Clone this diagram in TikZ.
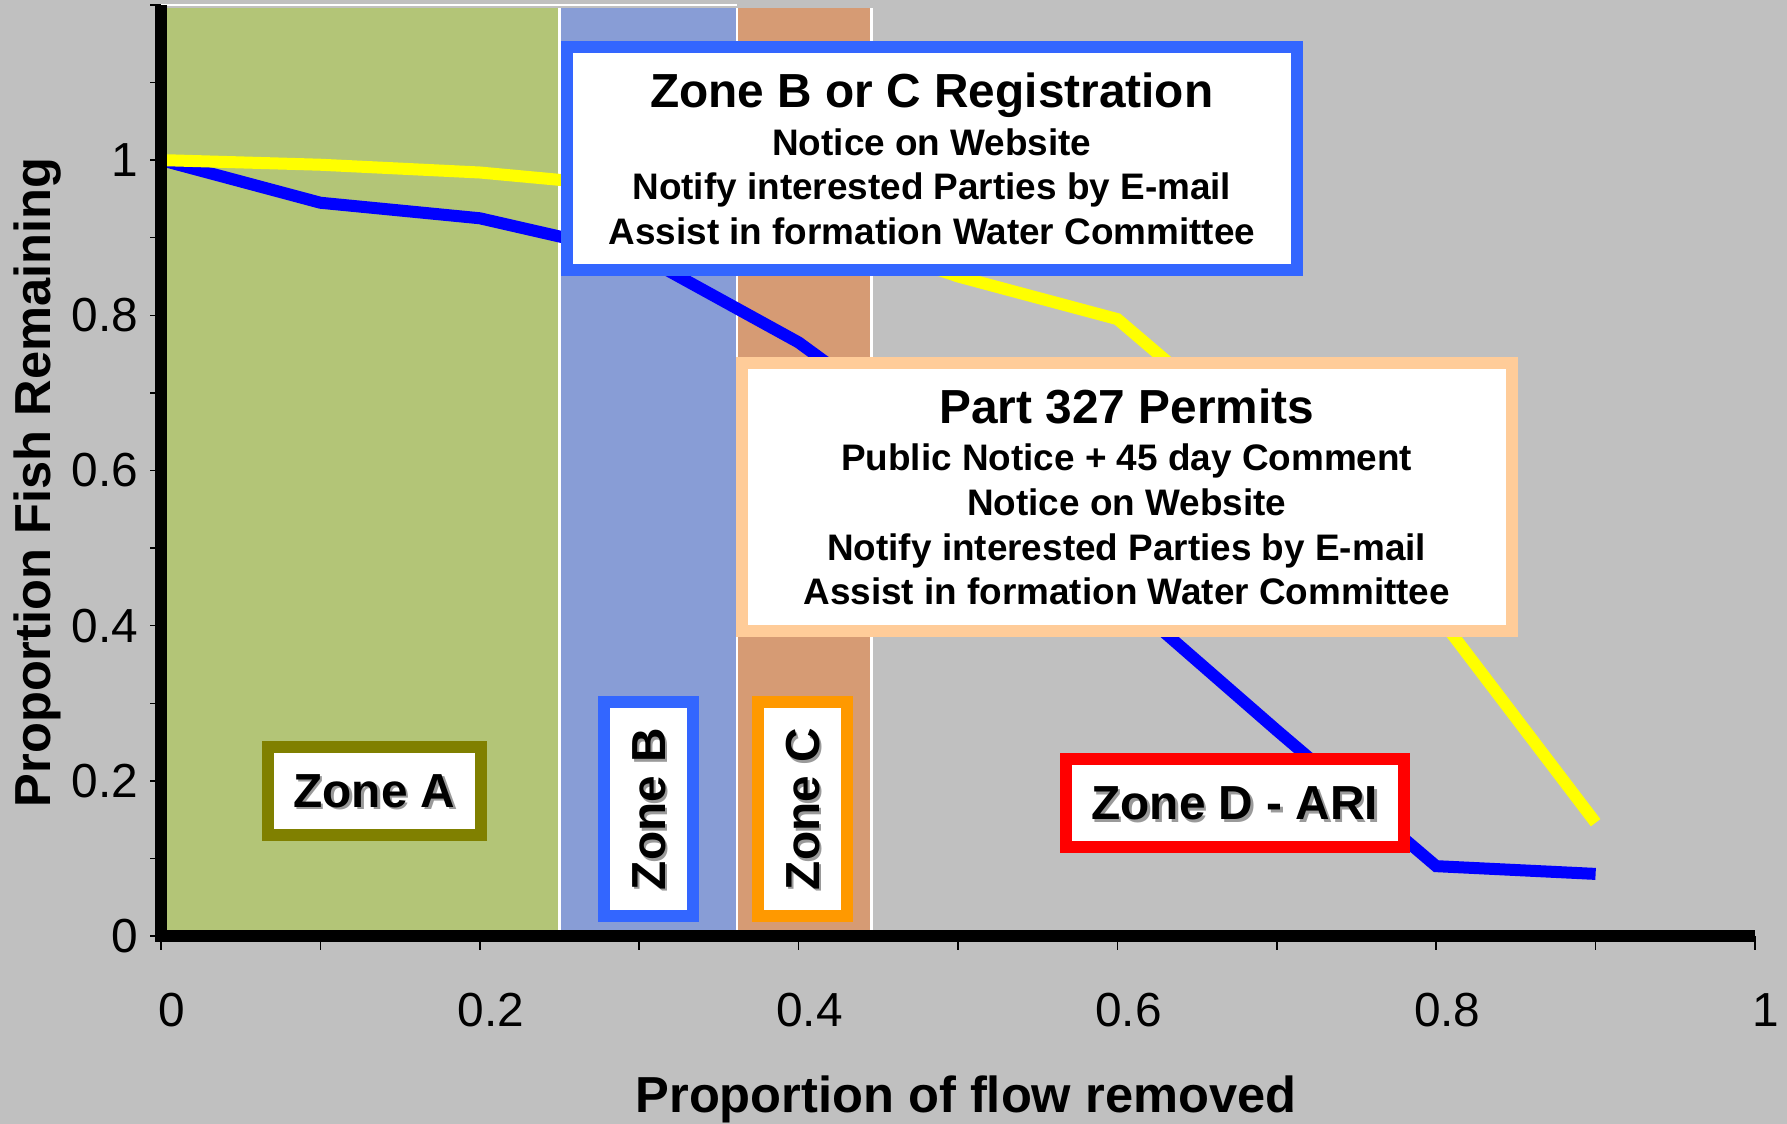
\documentclass[tikz,border=0pt]{standalone}
\usepackage{fontspec}
\setmainfont{Liberation Sans}

\definecolor{plotgray}{HTML}{C0C0C0}
\definecolor{zonegreen}{HTML}{B3C577}
\definecolor{zonelilac}{HTML}{889DD6}
\definecolor{zonetan}{HTML}{D69B74}
\definecolor{frameblue}{HTML}{3366FF}
\definecolor{frameorange}{HTML}{FF9900}
\definecolor{frameolive}{HTML}{808000}
\definecolor{framepeach}{HTML}{FFCC99}
\definecolor{shadowgray}{HTML}{9A9A9A}
\definecolor{fishblue}{HTML}{0000FF}
\definecolor{fishyellow}{HTML}{FFFF00}

\newcommand{\boxbodyfont}{\fontsize{10.5pt}{12.7pt}\selectfont\bfseries}
\newcommand{\boxheadfont}{\fontsize{13.6pt}{16pt}\selectfont\bfseries}
\newcommand{\zonelabelfont}{\fontsize{13.6pt}{16pt}\selectfont\bfseries}
\newcommand{\ticklabelfont}{\fontsize{13.6pt}{16pt}\selectfont}
\newcommand{\axistitlefont}{\fontsize{14.4pt}{17pt}\selectfont\bfseries}
\newcommand{\shadowed}[3]{\smash{\makebox[0pt][l]{\kern#1\raisebox{#2}{\textcolor{shadowgray}{#3}}}}#3}

\begin{document}
\begin{tikzpicture}[x=15.94cm, y=7.759cm,
    fishline/.style={line width=0.12cm},
    axisline/.style={line width=0.115cm, line join=miter},
    tickmark/.style={line width=0.4pt},
    zonebox/.style={draw, line width=0.12cm, fill=white, inner sep=0pt, font=\zonelabelfont},
    infobox/.style={draw, line width=0.12cm, fill=white, inner sep=0pt, align=center, font=\boxbodyfont},
    ticklabel/.style={inner sep=0pt, font=\ticklabelfont},
    axistitle/.style={inner sep=0pt, font=\axistitlefont}]
  \useasboundingbox (-1.61cm,-1.88cm) rectangle (16.26cm,9.36cm);
  \fill[plotgray] (-1.61cm,-1.88cm) rectangle (16.26cm,9.36cm);

  % zones
  \fill[zonegreen] (0,0) rectangle (0.25,1.1956);
  \fill[zonelilac] (0.25,0) rectangle (0.3614,1.1956);
  \fill[zonetan] (0.3614,0) rectangle (0.4457,1.1956);
  \foreach \xb in {0.25,0.3614,0.4457}
    \draw[white, line width=0.022cm] (\xb,0) -- (\xb,1.1956);
  \draw[white, line width=0.02cm] (0,1.2005) -- (0.3614,1.2005);

  % curves
  \draw[fishline, fishblue] plot coordinates {(0,1) (0.1,0.945) (0.2,0.925) (0.3,0.878)
    (0.4,0.765) (0.5,0.615) (0.6,0.444) (0.7,0.265) (0.8,0.09) (0.9,0.08)};
  \draw[fishline, fishyellow] plot coordinates {(0,1) (0.1,0.994) (0.2,0.984) (0.3,0.965)
    (0.4,0.92) (0.5,0.85) (0.6,0.795) (0.7,0.62) (0.8,0.416) (0.9,0.146)};

  % axes
  \foreach \i in {0,...,10}
    \draw[tickmark] (\i/10,0) -- ++(0,-0.14cm);
  \foreach \i in {0,...,12}
    \draw[tickmark] (0,\i/10) -- ++(-0.11cm,0);
  \draw[axisline] (0,1.2) -- (0,0) -- (1,0);
  \foreach \v/\lab [count=\k] in {0/0,0.2/0.2,0.4/0.4,0.6/0.6,0.8/0.8,1/1} {
    \node[ticklabel, anchor=base, xshift=0.11cm, yshift=-0.91cm] (xlab\k) at (\v,0) {\lab};
    \node[ticklabel, anchor=east, xshift=-0.22cm] (ylab\k) at (0,\v) {\lab};
  }
  \node[axistitle, anchor=base] (xtitle) at (0.505,-0.2281) {Proportion of flow removed};
  \node[axistitle, anchor=base, rotate=90] (ytitle) at (-0.0696,0.5845) {Proportion Fish Remaining};

  % zone labels
  \node[zonebox, draw=frameolive, minimum width=2.133cm, minimum height=0.88cm]
    (zoneA) at (0.1339,0.1869) {\shadowed{0.7pt}{-0.7pt}{Zone A}};
  \node[zonebox, draw=frameblue, rotate=90, minimum width=2.135cm, minimum height=0.889cm]
    (zoneB) at (0.3061,0.1634) {\shadowed{-0.7pt}{-0.7pt}{Zone B}};
  \node[zonebox, draw=frameorange, rotate=90, minimum width=2.135cm, minimum height=0.894cm]
    (zoneC) at (0.4026,0.1634) {\shadowed{-0.7pt}{-0.7pt}{Zone C}};
  \node[zonebox, draw=red, minimum width=3.385cm, minimum height=0.882cm]
    (zoneD) at (0.6737,0.1709) {\shadowed{0.7pt}{-0.7pt}{Zone D - ARI}};

  % notice boxes
  \node[infobox, draw=frameblue, minimum width=7.30cm, minimum height=2.23cm]
    (registration) at (0.4836,1.0014)
    {{\boxheadfont Zone B or C Registration}\\[0.8pt]
     Notice on Website\\
     Notify interested Parties by E-mail\\
     Assist in formation Water Committee};
  \node[infobox, draw=framepeach, minimum width=7.70cm, minimum height=2.68cm]
    (permits) at (0.6058,0.5658)
    {{\boxheadfont Part 327 Permits}\\[0.8pt]
     Public Notice + 45 day Comment\\
     Notice on Website\\
     Notify interested Parties by E-mail\\
     Assist in formation Water Committee};
\end{tikzpicture}
\end{document}
